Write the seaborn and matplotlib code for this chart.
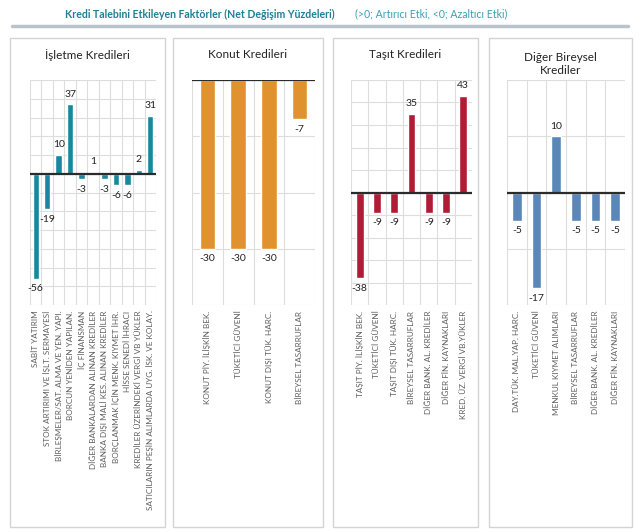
import pandas as pd
import numpy as np
import seaborn as sns
import matplotlib.pyplot as plt
from matplotlib.patches import Rectangle

# data
isletme_labels = ["SABİT YATIRIM", "STOK ARTIRIMI VE İŞLT. SERMAYESİ",
                  "BİRLEŞMELER/SAT. ALMA VE YEN. YAPI.", "BORCUN YENİDEN YAPILAN.",
                  "İÇ FİNANSMAN", "DİĞER BANKALARDAN ALINAN KREDİLER",
                  "BANKA DIŞI MALİ KES. ALINAN KREDİLER", "BORÇLANMAK İÇİN MENK. KIYMET İHR.",
                  "HİSSE SENEDİ İHRACI", "KREDİLER ÜZERİNDEKİ VERGİ VB YÜKLER",
                  "SATICILARIN PEŞİN ALIMLARDA UYG. İSK. VE KOLAY."]
isletme_values = [-56, -19, 10, 37, -3, 1, -3, -6, -6, 2, 31]

konut_labels = ["KONUT PİY. İLİŞKİN BEK.", "TÜKETİCİ GÜVENİ",
                "KONUT DIŞI TÜK. HARC.", "BİREYSEL TASARRUFLAR"]
konut_values = [-30, -30, -30, -7]

tasit_labels = ["TAŞIT PİY. İLİŞKİN BEK.", "TÜKETİCİ GÜVENİ", "TAŞIT DIŞI TÜK. HARC.",
                "BİREYSEL TASARRUFLAR", "DİĞER BANK. AL. KREDİLER",
                "DİĞER FİN. KAYNAKLARI", "KRED. ÜZ. VERGİ VB.YÜKLER"]
tasit_values = [-38, -9, -9, 35, -9, -9, 43]

diger_labels = ["DAY.TÜK. MAL.YAP. HARC.", "TÜKETİCİ GÜVENİ", "MENKUL KIYMET ALIMLARI",
                "BİREYSEL TASARRUFLAR", "DİĞER BANK. AL. KREDİLER", "DİĞER FİN. KAYNAKLARI"]
diger_values = [-5, -17, 10, -5, -5, -5]

panel_titles = ["İşletme Kredileri", "Konut Kredileri", "Taşıt Kredileri", "Diğer Bireysel\nKrediler"]

sns.set_style("white")
plt.rcParams['font.family'] = ['Lato', 'DejaVu Sans']

fig = plt.figure(figsize=(6.4, 5.32), dpi=100)
W, H = 640, 532

def fx(px):
    return px / W

def fy(py):
    return 1 - py / H

# header
fig.text(fx(65), fy(14), "Kredi Talebini Etkileyen Faktörler (Net Değişim Yüzdeleri)",
         fontsize=7.6, fontweight='bold', color='#1f7f95', va='center', ha='left')
fig.text(fx(355), fy(14), "(>0; Artırıcı Etki, <0; Azaltıcı Etki)",
         fontsize=7.6, color='#3aa0b5', va='center', ha='left')
fig.add_artist(plt.Line2D([fx(12), fx(628)], [fy(26), fy(26)], color='#b9c3cb', lw=2.5))

panels = [
    (isletme_labels, isletme_values, '#1a87a0', (-70, 50), (10, 165), (30, 156), 0.55),
    (konut_labels, konut_values, '#e0922f', (-40, 0), (173, 323), (192, 315), 0.5),
    (tasit_labels, tasit_values, '#b01c35', (-50, 50), (333, 478), (351, 472), 0.45),
    (diger_labels, diger_values, '#5a87b8', (-20, 20), (489, 632), (507, 625), 0.5),
]

top_px, bot_px = 80, 305

for i, (labels, values, color, ylim, box, plot_x, bw) in enumerate(panels):
    # panel frame
    fig.add_artist(Rectangle((fx(box[0]), fy(527)), fx(box[1] - box[0]), (527 - 38) / H,
                             transform=fig.transFigure, fill=False, edgecolor='#d4d4d4', lw=1))
    title_y = 55 if i < 3 else 64
    fig.text(fx((box[0] + box[1]) / 2), fy(title_y), panel_titles[i], fontsize=8.5,
             color='#222222', ha='center', va='center', linespacing=1.3)

    ax = fig.add_axes([fx(plot_x[0]), fy(bot_px), fx(plot_x[1] - plot_x[0]), (bot_px - top_px) / H])
    df = pd.DataFrame({'Kategori': labels, 'Deger': values})
    sns.barplot(data=df, x='Kategori', y='Deger', color=color, width=bw, ax=ax, saturation=1)
    n = len(labels)
    ax.set_xlim(-0.5, n - 0.5)
    ax.set_ylim(*ylim)
    ax.set_yticks(np.arange(ylim[0], ylim[1] + 1, 10))
    ax.set_yticklabels([])
    ax.set_xticks(range(n))
    ax.set_xticklabels(labels, rotation=90, fontsize=5.9, color='#5e5e5e')
    ax.set_xticks(np.arange(-0.5, n, 1), minor=True)
    ax.tick_params(axis='both', which='both', length=0, pad=4)
    ax.grid(axis='y', which='major', color='#dddddd', lw=0.8)
    ax.grid(axis='x', which='minor', color='#dddddd', lw=0.8)
    ax.set_axisbelow(True)
    for s in ax.spines.values():
        s.set_visible(False)
    ax.set_xlabel('')
    ax.set_ylabel('')
    ax.axhline(0, color='#2b2b2b', lw=1.6, zorder=3)
    for j, v in enumerate(values):
        ax.annotate(str(v), (j, v), xytext=(0, 4 if v >= 0 else -4), textcoords='offset points',
                    ha='center', va='bottom' if v >= 0 else 'top', fontsize=7.5, color='#222222')

fig.savefig('out.png', dpi=100)
